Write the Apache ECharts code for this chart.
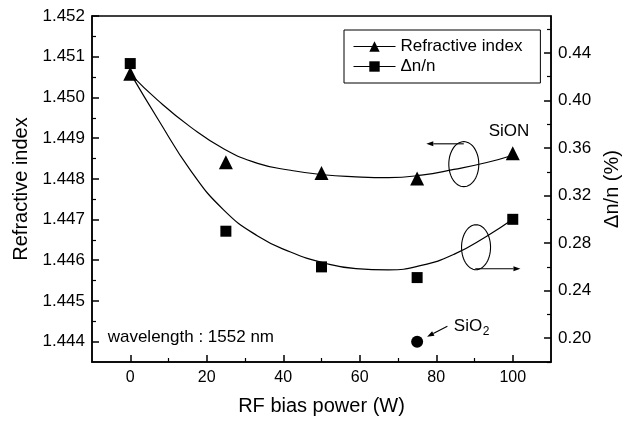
<!DOCTYPE html>
<html><head><meta charset="utf-8">
<script src="https://cdn.jsdelivr.net/npm/echarts@6/dist/echarts.min.js"></script>
<style>html,body{margin:0;padding:0;background:#fff}#c{width:630px;height:421px}</style>
</head><body><div id="c"></div>
<script>
// ---- data ----
const powerW   = [0, 25, 50, 75, 100];
const refIndex = [1.45058, 1.44841, 1.44814, 1.44801, 1.44863];
const deltaN   = [0.431, 0.290, 0.260, 0.251, 0.300];
const sio2Power = [75];
const sio2Index = [1.444];
const fitX     = [0, 7.3, 15.8, 24.4, 33.3, 41.9, 50.4, 59, 67.5, 76.1, 84.6, 93.2, 100];
const fitRef   = [1.45058, 1.44992, 1.44927, 1.44874, 1.44838, 1.44821, 1.44810, 1.44805, 1.44803, 1.44809, 1.44823, 1.44840, 1.44858];
const fitDn    = [0.423, 0.384, 0.341, 0.308, 0.286, 0.2725, 0.2635, 0.2585, 0.2575, 0.2612, 0.2705, 0.2858, 0.300];
const xTicks     = [0, 20, 40, 60, 80, 100];
const xMinor     = [10, 30, 50, 70, 90];
const leftTicks  = [1.444, 1.445, 1.446, 1.447, 1.448, 1.449, 1.450, 1.451, 1.452];
const leftMinor  = [1.4445, 1.4455, 1.4465, 1.4475, 1.4485, 1.4495, 1.4505, 1.4515];
const rightTicks = [0.20, 0.24, 0.28, 0.32, 0.36, 0.40, 0.44];
const rightMinor = [0.18, 0.22, 0.26, 0.30, 0.34, 0.38, 0.42, 0.46];

const zip = (a, b) => a.map((v, i) => [v, b[i]]);
const FF = 'Liberation Sans, Arial, sans-serif';
const K = '#000';
const axLine = {show: true, onZero: false, lineStyle: {color: K, width: 1.5}};
const noLine = {show: false, onZero: false};

const chart = echarts.init(document.getElementById('c'), null, {renderer: 'canvas'});
const X = {min: -10, max: 110, type: 'value'};
const YL = {min: 1.4435, max: 1.452, type: 'value'};
const YR = {min: 0.18, max: 0.471, type: 'value'};

chart.setOption({
  animation: false,
  textStyle: {fontFamily: FF},
  grid: {left: 92, right: 72, top: 16, bottom: 58, show: true, borderColor: K, borderWidth: 1.5, backgroundColor: 'transparent'},
  legend: {
    left: 344, top: 30, orient: 'vertical', itemWidth: 42, itemHeight: 13, itemGap: 3,
    padding: [8, 18, 8, 9], borderColor: K, borderWidth: 1, backgroundColor: '#fff',
    textStyle: {fontSize: 17, color: K, fontFamily: FF},
    selectedMode: false,
    data: [
      {name: 'Refractive index', lineStyle: {opacity: 1, width: 1, color: K}},
      {name: 'Δn/n', lineStyle: {opacity: 1, width: 1, color: K}}
    ]
  },
  xAxis: [
    Object.assign({}, X, {
      position: 'bottom', axisLine: axLine,
      axisTick: {show: true, inside: true, length: 7, customValues: xTicks, lineStyle: {color: K, width: 1.5}},
      axisLabel: {customValues: xTicks, fontSize: 16, color: K, margin: 8, fontFamily: FF},
      splitLine: {show: false},
      name: 'RF bias power (W)', nameLocation: 'middle', nameGap: 34,
      nameTextStyle: {fontSize: 20, color: K, fontFamily: FF}
    }),
    Object.assign({}, X, {
      position: 'bottom', axisLine: noLine,
      axisTick: {show: true, inside: true, length: 4, customValues: xMinor, lineStyle: {color: K, width: 1.2}},
      axisLabel: {show: false}, splitLine: {show: false}
    })
  ],
  yAxis: [
    Object.assign({}, YL, {
      position: 'left', axisLine: axLine,
      axisTick: {show: true, inside: true, length: 7, customValues: leftTicks, lineStyle: {color: K, width: 1.5}},
      axisLabel: {customValues: leftTicks, formatter: v => v.toFixed(3), fontSize: 17, color: K, margin: 7, fontFamily: FF},
      splitLine: {show: false},
      name: 'Refractive index', nameLocation: 'middle', nameGap: 60,
      nameTextStyle: {fontSize: 20, color: K, fontFamily: FF}
    }),
    Object.assign({}, YR, {
      position: 'right', axisLine: axLine,
      axisTick: {show: true, inside: true, length: 7, customValues: rightTicks, lineStyle: {color: K, width: 1.5}},
      axisLabel: {customValues: rightTicks, formatter: v => v.toFixed(2), fontSize: 17, color: K, margin: 7, fontFamily: FF},
      splitLine: {show: false},
      name: 'Δn/n (%)', nameLocation: 'middle', nameGap: 44, nameRotate: 90,
      nameTextStyle: {fontSize: 20, color: K, fontFamily: FF}
    }),
    Object.assign({}, YL, {
      position: 'left', axisLine: noLine,
      axisTick: {show: true, inside: true, length: 4, customValues: leftMinor, lineStyle: {color: K, width: 1.2}},
      axisLabel: {show: false}, splitLine: {show: false}
    }),
    Object.assign({}, YR, {
      position: 'right', axisLine: noLine,
      axisTick: {show: true, inside: true, length: 4, customValues: rightMinor, lineStyle: {color: K, width: 1.2}},
      axisLabel: {show: false}, splitLine: {show: false}
    })
  ],
  series: [
    {name: 'fitRef', type: 'line', xAxisIndex: 0, yAxisIndex: 0, data: zip(fitX, fitRef), smooth: 0.5,
     showSymbol: false, lineStyle: {color: K, width: 1.2}, silent: true, z: 2},
    {name: 'fitDn', type: 'line', xAxisIndex: 0, yAxisIndex: 1, data: zip(fitX, fitDn), smooth: 0.5,
     showSymbol: false, lineStyle: {color: K, width: 1.2}, silent: true, z: 2},
    {name: 'Refractive index', type: 'line', xAxisIndex: 0, yAxisIndex: 0, data: zip(powerW, refIndex),
     symbol: 'triangle', symbolSize: 14, showAllSymbol: true, itemStyle: {color: K, opacity: 1}, lineStyle: {opacity: 0, color: K}, silent: true, z: 3},
    {name: 'Δn/n', type: 'line', xAxisIndex: 0, yAxisIndex: 1, data: zip(powerW, deltaN),
     symbol: 'rect', symbolSize: 11, showAllSymbol: true, itemStyle: {color: K, opacity: 1}, lineStyle: {opacity: 0, color: K}, silent: true, z: 3},
    {name: 'SiO2', type: 'scatter', xAxisIndex: 0, yAxisIndex: 0, data: zip(sio2Power, sio2Index),
     symbol: 'circle', symbolSize: 12, itemStyle: {color: K, opacity: 1}, silent: true, z: 3}
  ]
});

// ---- annotations, positioned through the axes ----
const P = (x, y) => chart.convertToPixel({xAxisIndex: 0, yAxisIndex: 0}, [x, y]);
function ellipse(c, rx, ry) {
  const pts = [];
  for (let i = 0; i < 60; i++) { const a = i / 60 * Math.PI * 2; pts.push([c[0] + rx * Math.cos(a), c[1] + ry * Math.sin(a)]); }
  return {type: 'polygon', shape: {points: pts}, style: {fill: 'none', stroke: K, lineWidth: 1.1}, silent: true};
}
function arrow(a, b) {
  const dx = b[0] - a[0], dy = b[1] - a[1], L = Math.hypot(dx, dy), ux = dx / L, uy = dy / L;
  const hl = 7, hw = 2.5;
  const base = [b[0] - ux * hl, b[1] - uy * hl];
  return [
    {type: 'line', shape: {x1: a[0], y1: a[1], x2: base[0], y2: base[1]}, style: {stroke: K, lineWidth: 1.1}, silent: true},
    {type: 'polygon', shape: {points: [b, [base[0] - uy * hw, base[1] + ux * hw], [base[0] + uy * hw, base[1] - ux * hw]]}, style: {fill: K}, silent: true}
  ];
}
const e1 = P(87.2, 1.44836), e2 = P(90.4, 1.44632);
const a1s = P(87.2, 1.44886), a1e = P(77.4, 1.44886);
const a2s = P(90.2, 1.44579), a2e = P(102, 1.44579);
const a3s = P(82.9, 1.44438), a3e = P(77.6, 1.44412);
const sion = P(99, 1.44916), sio2 = P(84.6, 1.44437), wl = P(-5.9, 1.44410);
const els = [
  ellipse(e1, 15, 22.5), ellipse(e2, 14.5, 22.5),
  ...arrow(a1s, a1e), ...arrow(a2s, a2e), ...arrow(a3s, a3e),
  {type: 'text', x: sion[0], y: sion[1], style: {text: 'SiON', fontSize: 17, fontFamily: FF, fill: K, align: 'center', verticalAlign: 'middle'}, silent: true},
  {type: 'text', x: sio2[0], y: sio2[1], style: {text: 'SiO', fontSize: 17, fontFamily: FF, fill: K, align: 'left', verticalAlign: 'middle'}, silent: true},
  {type: 'text', x: sio2[0] + 29, y: sio2[1] + 5, style: {text: '2', fontSize: 12, fontFamily: FF, fill: K, align: 'left', verticalAlign: 'middle'}, silent: true},
  {type: 'text', x: wl[0], y: wl[1], style: {text: 'wavelength : 1552 nm', fontSize: 17, fontFamily: FF, fill: K, align: 'left', verticalAlign: 'middle'}, silent: true}
];
chart.setOption({graphic: {elements: els}});
</script>
</body></html>
